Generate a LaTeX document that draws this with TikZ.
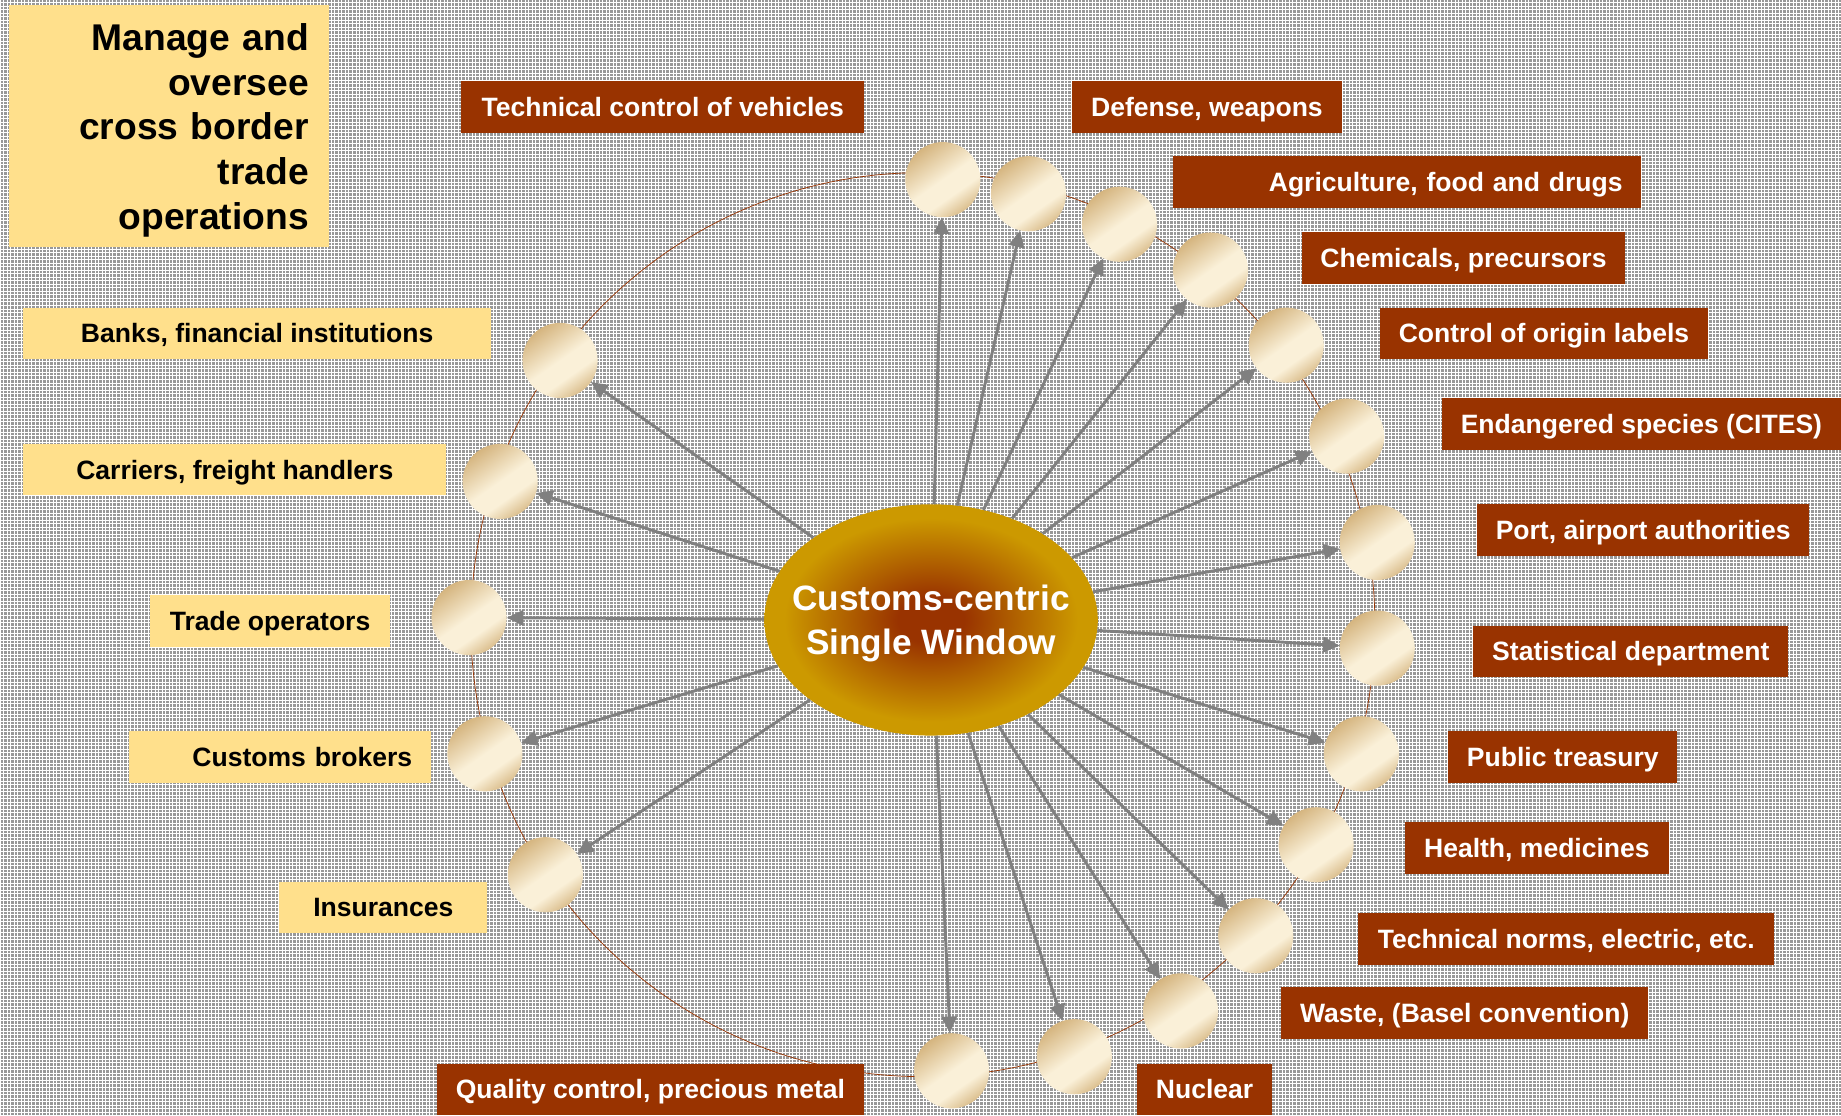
\documentclass[tikz,border=0pt]{standalone}
\usepackage{fontspec}
\setmainfont{Liberation Sans}
\usepackage{xcolor}
\usepackage{tikz}
\usetikzlibrary{shapes.geometric, patterns}
\usetikzlibrary{arrows.meta}

\definecolor{tred}{HTML}{993300}
\definecolor{tyellow}{HTML}{FFE08C}
\definecolor{bggray}{HTML}{989898}
\definecolor{arrgray}{HTML}{808080}
\definecolor{balltan}{HTML}{C8A060}
\definecolor{ballcream}{HTML}{FAF0D8}
\definecolor{hubgold}{HTML}{CC9900}
\definecolor{hubdark}{HTML}{993300}

\pgfdeclareradialshading{hubshade}{\pgfpoint{0bp}{0bp}}{color(0bp)=(hubdark); color(5bp)=(hubdark); color(22bp)=(hubgold); color(50bp)=(hubgold)}
\pgfdeclareverticalshading{ballshade}{100bp}{color(0bp)=(balltan); color(17bp)=(balltan); color(38bp)=(ballcream); color(50bp)=(ballcream); color(82bp)=(balltan!95!ballcream); color(100bp)=(balltan!95!ballcream)}

\newcommand{\lblfont}{\fontsize{22.6pt}{27pt}\selectfont\bfseries}
\newcommand{\headfont}{\fontsize{31.7pt}{38pt}\selectfont\bfseries}
\newcommand{\hubfont}{\fontsize{30pt}{38pt}\selectfont\bfseries}

\begin{document}
\begin{tikzpicture}[x=1pt, y=-1pt, >={Triangle[length=14pt,width=13pt]},
	ball/.style={circle, minimum size=64pt, inner sep=0pt, shade, shading=ballshade, shading angle=35},
	hub/.style={ellipse, minimum width=284pt, minimum height=197pt, inner sep=0pt, shade, shading=hubshade},
	arr/.style={->, draw=arrgray, line width=2.5pt},
	rbox/.style={fill=tred, text=white, minimum height=44pt, inner xsep=16pt, inner ysep=0pt, text height=17pt, text depth=1pt, font=\lblfont},
	ybox/.style={fill=tyellow, text=black, minimum height=44pt, inner xsep=16pt, inner ysep=0pt, text height=17pt, text depth=1pt, font=\lblfont},
	headbox/.style={fill=tyellow, text=black, inner xsep=17pt, align=right, font=\headfont}]

		\useasboundingbox (0,0) rectangle (1568,950);
		\fill[bggray] (0,0) rectangle (1568,950);
		\fill[pattern=grid, pattern color=white] (0,0) rectangle (1568,950);

		% ring through the agencies
		\draw[tred, line width=0.6pt] (786,532) circle[radius=385pt];

		\node[hub] (win) at (793,528) {};
		\node[text=white, align=center, font=\hubfont, yshift=-3pt] at (win) {Customs-centric\\Single Window};

		\node[ball] (c1) at (803,153) {};
		\node[ball] (c2) at (876,165) {};
		\node[ball] (c3) at (953.5,191) {};
		\node[ball] (c4) at (1031,230) {};
		\node[ball] (c5) at (1095.5,294) {};
		\node[ball] (c6) at (1147,371.5) {};
		\node[ball] (c7) at (1173,462) {};
		\node[ball] (c8) at (1173,552) {};
		\node[ball] (c9) at (1159.5,642) {};
		\node[ball] (c10) at (1121,719.5) {};
		\node[ball] (c11) at (1069.5,797) {};
		\node[ball] (c12) at (1005.5,861) {};
		\node[ball] (c13) at (915,900) {};
		\node[ball] (c14) at (810.5,912) {};
		\node[ball] (l1) at (477,307) {};
		\node[ball] (l2) at (426,410) {};
		\node[ball] (l3) at (399.5,526) {};
		\node[ball] (l4) at (413,642) {};
		\node[ball] (l5) at (464.5,745) {};

		\draw[arr] (win) -- (c1);
		\draw[arr] (win) -- (c2);
		\draw[arr] (win) -- (c3);
		\draw[arr] (win) -- (c4);
		\draw[arr] (win) -- (c5);
		\draw[arr] (win) -- (c6);
		\draw[arr] (win) -- (c7);
		\draw[arr] (win) -- (c8);
		\draw[arr] (win) -- (c9);
		\draw[arr] (win) -- (c10);
		\draw[arr] (win) -- (c11);
		\draw[arr] (win) -- (c12);
		\draw[arr] (win) -- (c13);
		\draw[arr] (win) -- (c14);
		\draw[arr] (win) -- (l1);
		\draw[arr] (win) -- (l2);
		\draw[arr] (win) -- (l3);
		\draw[arr] (win) -- (l4);
		\draw[arr] (win) -- (l5);

		% agencies
		\node[rbox, minimum width=343pt] (vehicles) at (564.5,91) {Technical control of vehicles};
		\node[rbox, minimum width=230pt] (defense) at (1028,91) {Defense, weapons};
		\node[rbox, text width=367pt, align=right] (agri) at (1198.5,155) {Agriculture, food and drugs};
		\node[rbox, minimum width=275pt] (chem) at (1246.5,220) {Chemicals, precursors};
		\node[rbox, minimum width=280pt] (origin) at (1315,284) {Control of origin labels};
		\node[rbox, minimum width=340pt] (cites) at (1398,361) {Endangered species (CITES)};
		\node[rbox, minimum width=283pt] (port) at (1399.5,451.5) {Port, airport authorities};
		\node[rbox, minimum width=268pt] (stat) at (1389,554.75) {Statistical department};
		\node[rbox, minimum width=194pt] (treasury) at (1331,645) {Public treasury};
		\node[rbox, minimum width=224pt] (health) at (1309,722) {Health, medicines};
		\node[rbox, minimum width=354pt] (norms) at (1334,799.5) {Technical norms, electric, etc.};
		\node[rbox, minimum width=313pt] (waste) at (1247.5,863) {Waste, (Basel convention)};
		\node[rbox, minimum width=114pt] (nuclear) at (1026,928) {Nuclear};
		\node[rbox, minimum width=364pt] (quality) at (554,928) {Quality control, precious metal};

		% trade side
		\node[headbox, minimum width=272pt, minimum height=206pt, text width=238pt] (title) at (144,107) {\rule{0pt}{31pt}Manage and\\oversee\\cross border\\trade\\operations};
		\node[ybox, minimum width=398pt] (banks) at (219,284) {Banks, financial institutions};
		\node[ybox, minimum width=360pt] (carriers) at (200,400) {Carriers, freight handlers};
		\node[ybox, minimum width=204pt] (traders) at (230,529) {Trade operators};
		\node[ybox, text width=225pt, align=right] (brokers) at (238.5,645) {Customs brokers};
		\node[ybox, minimum width=177pt] (insur) at (326.5,773) {Insurances};

	\end{tikzpicture}
\end{document}
